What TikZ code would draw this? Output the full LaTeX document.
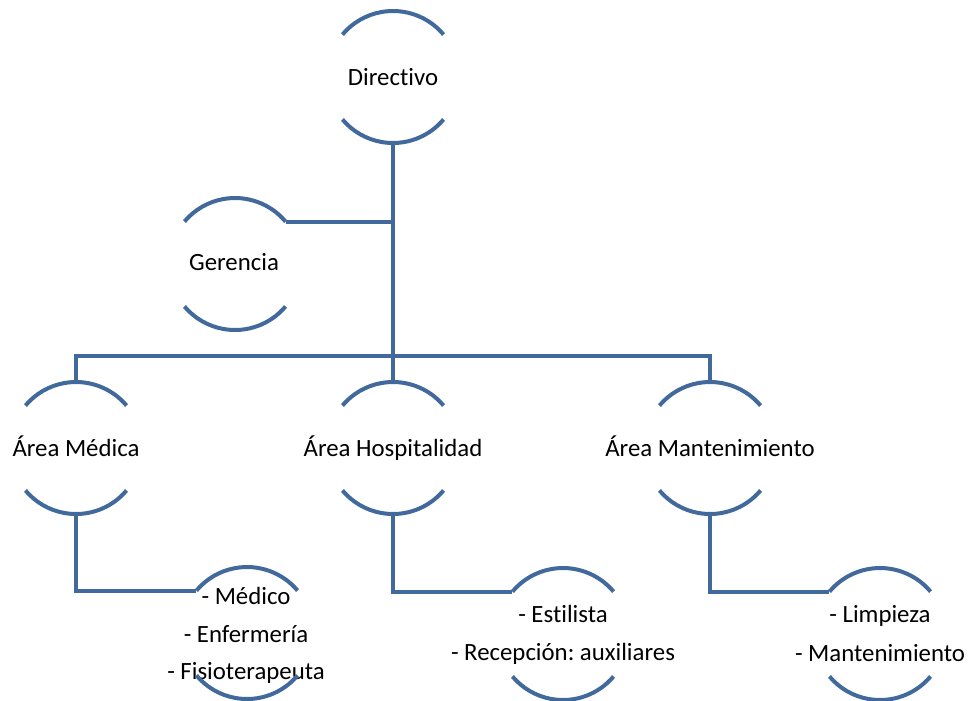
\documentclass[tikz,border=0pt]{standalone}
\usepackage{fontspec}
\setmainfont{Carlito}[Ligatures=NoCommon]
\frenchspacing
\definecolor{lncol}{RGB}{65,105,155}
\tikzset{
  ln/.style={draw=lncol, line width=3pt},
  ring/.style={circle, minimum size=99pt, inner sep=0pt, outer sep=0pt, draw=none},
  txt/.style={font=\fontsize{18.6pt}{22pt}\selectfont, inner sep=0pt, anchor=base, text=black},
}
\begin{document}
\begin{tikzpicture}[x=0.75pt,y=-0.75pt]
\useasboundingbox (0,0) rectangle (969,700);
% rings
\node[ring] (d)  at (393,77)  {};
\node[ring] (g)  at (235,264) {};
\node[ring] (m)  at (76,448)  {};
\node[ring] (h)  at (393,448) {};
\node[ring] (mt) at (710,448) {};
\node[ring] (c1) at (247,633) {};
\node[ring] (c2) at (563,634) {};
\node[ring] (c3) at (880,634) {};
% texts
\node[txt] (dt)  at (393,85)  {Directivo};
\node[txt] (gt)  at (234,270) {Gerencia};
\node[txt] (mtx) at (76,456)  {Área Médica};
\node[txt] (ht)  at (393,456) {Área Hospitalidad};
\node[txt] (mtt) at (710,456) {Área Mantenimiento};
\node[txt] (c1a) at (246,604) {- Médico};
\node[txt] (c1b) at (246,642) {- Enfermería};
\node[txt] (c1c) at (246,679) {- Fisioterapeuta};
\node[txt] (c2a) at (563,622) {- Estilista};
\node[txt] (c2b) at (563,660) {- Recepción: auxiliares};
\node[txt] (c3a) at (880,622) {- Limpieza};
\node[txt] (c3b) at (880,661) {- Mantenimiento};
% arcs
\foreach \n in {d,g,m,h,mt,c1,c2,c3}{
  \draw[ln] (\n.40) arc[start angle=40, end angle=140, radius=49.5pt];
  \draw[ln] (\n.-40) arc[start angle=-40, end angle=-140, radius=49.5pt];
}
% connectors
\coordinate (bus) at (393,356);
\draw[ln] (d.south) -- (h.north);
\draw[ln] (g.40) -- (g.40 -| d.south);
\draw[ln] (m.north) |- (bus) -| (mt.north);
\draw[ln] (m.south) |- (c1.140);
\draw[ln] (h.south) |- (c2.140);
\draw[ln] (mt.south) |- (c3.140);
\end{tikzpicture}
\end{document}
